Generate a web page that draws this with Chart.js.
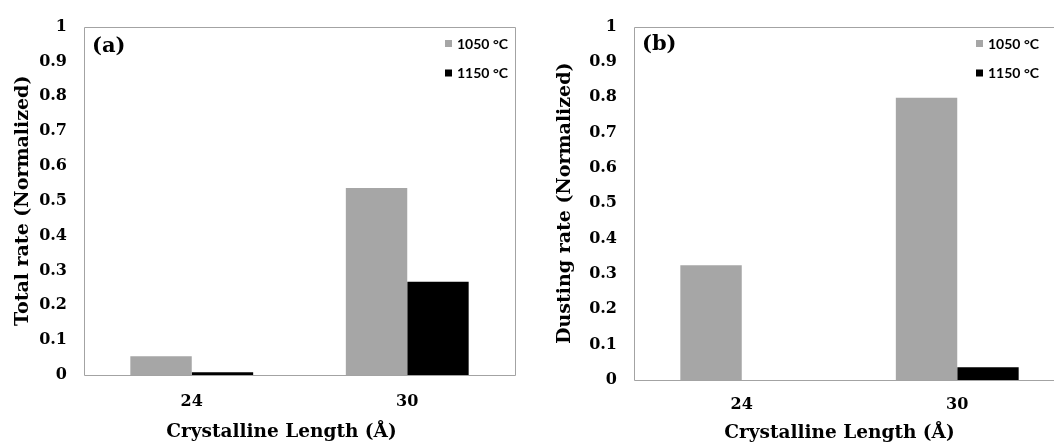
<!DOCTYPE html>
<html>
<head>
<meta charset="utf-8">
<script src="https://cdn.jsdelivr.net/npm/chart.js@4/dist/chart.umd.min.js"></script>
<style>
  html, body { margin: 0; padding: 0; background: #fff; overflow: hidden; width: 1054px; height: 442px; }
  #wrapA { position: absolute; left: 0; top: 0; width: 527px; height: 442px; }
  #wrapB { position: absolute; left: 527px; top: 0; width: 540px; height: 442px; }
</style>
</head>
<body>
<div id="wrapA"><canvas id="chartA" width="527" height="442"></canvas></div>
<div id="wrapB"><canvas id="chartB" width="540" height="442"></canvas></div>
<script>
// ---- data ----
const categories = ['24', '30'];
const seriesLabels = ['1050 \u00B0C', '1150 \u00B0C'];
const totalRate1050 = [0.054, 0.537];
const totalRate1150 = [0.008, 0.268];
const dustingRate1050 = [0.325, 0.799];
const dustingRate1150 = [0, 0.036];
const yTickLabels = ['0', '0.1', '0.2', '0.3', '0.4', '0.5', '0.6', '0.7', '0.8', '0.9', '1'];
const xAxisTitle = 'Crystalline Length (\u00C5)';
const yTitleA = 'Total rate (Normalized)';
const yTitleB = 'Dusting rate (Normalized)';

const colors = ['#a6a6a6', '#000000'];
const serif = "'DejaVu Serif', serif";

const framePlugin = {
  id: 'frame',
  afterDraw(chart, args, opts) {
    const { ctx, chartArea: a } = chart;
    ctx.save();
    // box
    ctx.strokeStyle = '#a3a3a3';
    ctx.lineWidth = 1;
    ctx.beginPath();
    ctx.rect(Math.round(a.left) + 0.5, Math.round(a.top) + 0.5, Math.round(a.right - a.left), Math.round(a.bottom - a.top));
    ctx.stroke();
    // panel label
    ctx.fillStyle = '#000';
    ctx.font = "bold 21px " + serif;
    ctx.textBaseline = 'middle';
    ctx.textAlign = 'left';
    ctx.fillText(opts.panel, a.left + 8, opts.panelY);
    // legend from datasets
    ctx.font = "bold 14px Lato, 'Open Sans', sans-serif";
    chart.data.datasets.forEach((ds, i) => {
      const y = opts.legendY + i * 29.5;
      ctx.fillStyle = ds.backgroundColor;
      ctx.fillRect(opts.legendX, y - 3.5, 7, 7);
      ctx.fillStyle = '#000';
      ctx.fillText(ds.label, opts.legendX + 12, y + 0.5);
    });
    // x title
    ctx.font = "bold 18.5px " + serif;
    ctx.textAlign = 'center';
    ctx.fillText(opts.xTitle, (a.left + a.right) / 2 + opts.xTitleDx, opts.xTitleY);
    ctx.restore();
  }
};

function makeChart(id, d1, d2, yTitle, cfg) {
  return new Chart(document.getElementById(id), {
    type: 'bar',
    data: {
      labels: categories,
      datasets: [
        { label: seriesLabels[0], data: d1, backgroundColor: colors[0], borderWidth: 0, categoryPercentage: 0.57, barPercentage: 1 },
        { label: seriesLabels[1], data: d2, backgroundColor: colors[1], borderWidth: 0, categoryPercentage: 0.57, barPercentage: 1 }
      ]
    },
    options: {
      responsive: false,
      animation: false,
      devicePixelRatio: 1,
      layout: { padding: { top: cfg.top, right: cfg.right, left: 0, bottom: 0 } },
      plugins: {
        legend: { display: false },
        tooltip: { enabled: false },
        frame: cfg.frame
      },
      scales: {
        x: {
          grid: { display: false, drawTicks: false },
          border: { display: false },
          ticks: { color: '#000', font: { family: serif, weight: 'bold', size: 16 }, padding: cfg.xTickPad },
          afterFit(scale) { scale.height = cfg.xHeight; }
        },
        y: {
          min: 0, max: 1,
          grid: { display: false, drawTicks: false },
          border: { display: false },
          ticks: {
            stepSize: 0.1,
            color: '#000',
            font: { family: serif, weight: 'bold', size: 16 },
            padding: 17,
            callback: (v, i) => yTickLabels[i]
          },
          title: {
            display: true, text: yTitle, color: '#000',
            font: { family: serif, weight: 'bold', size: 19, lineHeight: 1.2 },
            padding: { top: cfg.yTitlePad, bottom: 0 }
          },
          afterFit(scale) { scale.width = cfg.yWidth; }
        }
      }
    },
    plugins: [framePlugin]
  });
}

makeChart('chartA', totalRate1050, totalRate1150, yTitleA, {
  top: 21, right: 12, xHeight: 67, yWidth: 84, yTitlePad: 12, xTickPad: 17,
  frame: { panel: '(a)', panelY: 47, legendX: 445, legendY: 43.5, xTitle: xAxisTitle, xTitleDx: -18, xTitleY: 432 }
});
makeChart('chartB', dustingRate1050, dustingRate1150, yTitleB, {
  top: 18, right: 2, xHeight: 62, yWidth: 107, yTitlePad: 27, xTickPad: 15,
  frame: { panel: '(b)', panelY: 45, legendX: 976 - 527, legendY: 43.5, xTitle: xAxisTitle, xTitleDx: -10, xTitleY: 433 }
});
</script>
</body>
</html>
